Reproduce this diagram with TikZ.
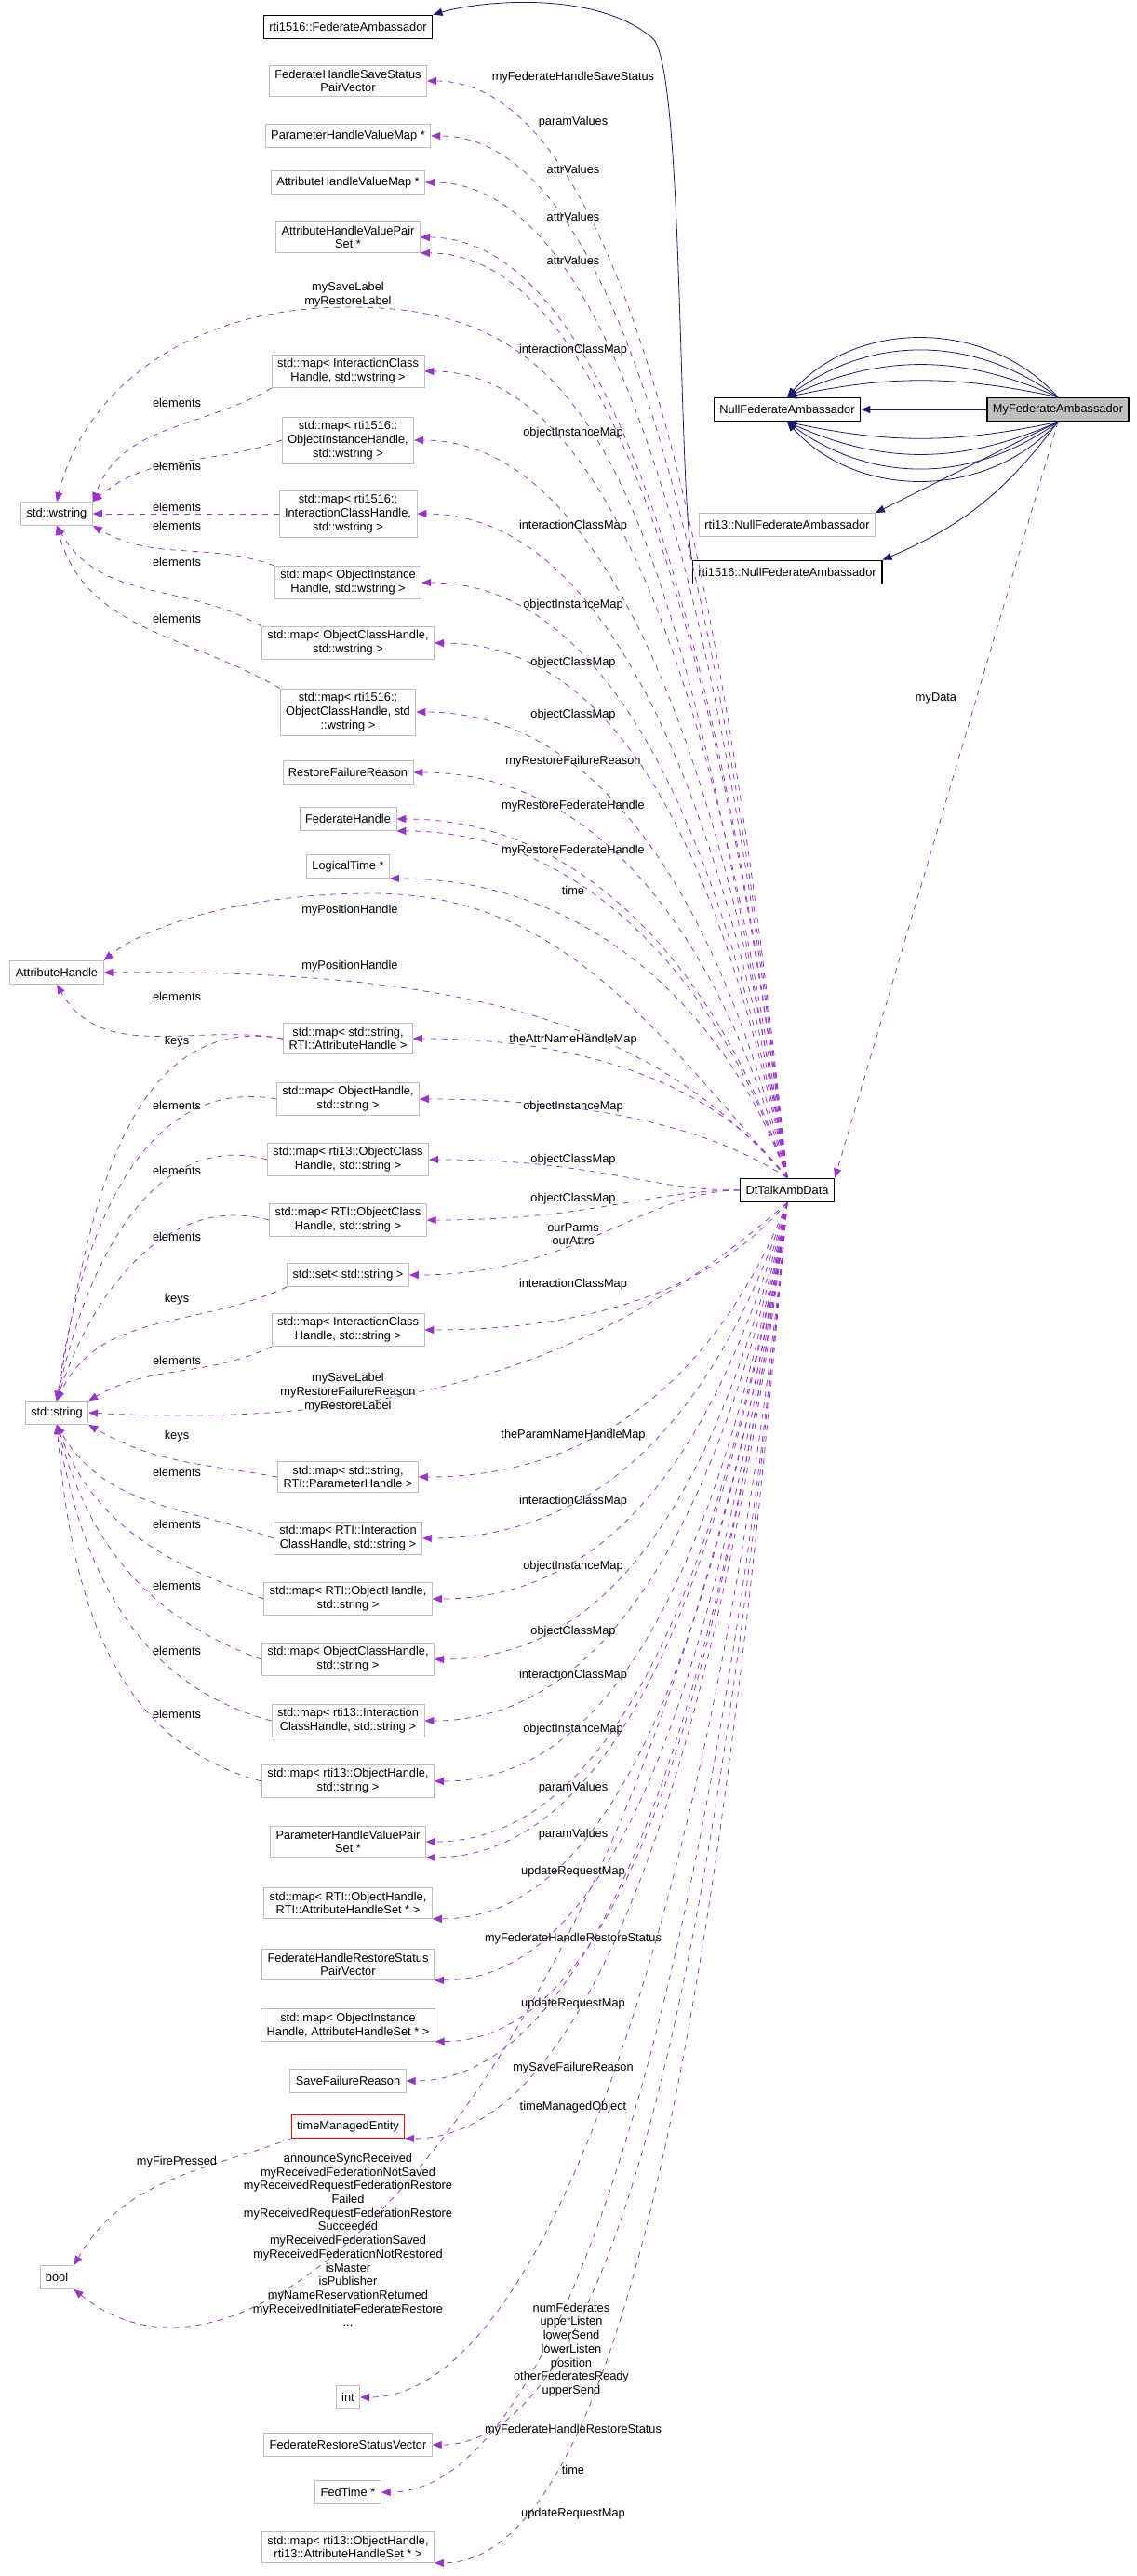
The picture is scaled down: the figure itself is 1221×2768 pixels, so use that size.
\documentclass[tikz,border=0pt]{standalone}
\usepackage{fontspec}
\setmainfont{Liberation Sans}
\usetikzlibrary{arrows.meta,positioning}
\definecolor{memberc}{HTML}{9A32CD}
\definecolor{inheritc}{HTML}{191970}
\definecolor{boxgray}{HTML}{BFBFBF}
\begin{document}
\begin{tikzpicture}[
    x=0.5pt, y=-0.5pt,
    font=\fontsize{6.4}{7.35}\selectfont,
    box/.style={rectangle, draw=boxgray, fill=white, align=center, inner xsep=3pt, inner ysep=2.2pt, minimum height=12.5pt},
    known/.style={box, draw=black, thick},
    current/.style={known, fill=boxgray},
    broken/.style={box, draw=red},
    lbl/.style={align=center, inner sep=0pt},
    member/.style={-{Triangle[length=5pt,width=4pt]}, dashed, memberc, thin},
    inherit/.style={-{Triangle[length=5pt,width=4pt]}, inheritc, thin}
]
\useasboundingbox (0,0) rectangle (1221,2768);

% Base classes
\node[known] (fedamb) at (374,29) {rti1516::FederateAmbassador};
\node[known] (nullfa) at (846,440) {NullFederateAmbassador};
\node[current] (myfa) at (1137,440) {MyFederateAmbassador};
\node[box] (null13) at (846,564) {rti13::NullFederateAmbassador};
\node[known] (null1516) at (846,615) {rti1516::NullFederateAmbassador};
\node[known] (dt) at (846,1279) {DtTalkAmbData};

% Member types (upper part)
\node[box] (fhss) at (374,87) {FederateHandleSaveStatus\\PairVector};
\node[box] (phvm) at (374,146) {ParameterHandleValueMap *};
\node[box] (ahvm) at (374,196) {AttributeHandleValueMap *};
\node[box] (ahvps) at (374,255) {AttributeHandleValuePair\\Set *};
\node[box] (wstring) at (61,552) {std::wstring};
\node[box] (mapicw) at (374,399) {std::map< InteractionClass\\Handle, std::wstring >};
\node[box] (mapoiw) at (374,473) {std::map< rti1516::\\ObjectInstanceHandle,\\std::wstring >};
\node[box] (mapichw) at (374,552) {std::map< rti1516::\\InteractionClassHandle,\\std::wstring >};
\node[box] (mapoihw) at (374,626) {std::map< ObjectInstance\\Handle, std::wstring >};
\node[box] (mapochw) at (374,691) {std::map< ObjectClassHandle,\\std::wstring >};
\node[box] (mapocw) at (374,765) {std::map< rti1516::\\ObjectClassHandle, std\\::wstring >};
\node[box] (rfr) at (374,830) {RestoreFailureReason};
\node[box] (fh) at (374,880) {FederateHandle};
\node[box] (lt) at (374,931) {LogicalTime *};
\node[box] (ah) at (61,1045) {AttributeHandle};
\node[box] (mapsah) at (374,1116) {std::map< std::string,\\RTI::AttributeHandle >};
\node[box] (mapohs) at (374,1181) {std::map< ObjectHandle,\\std::string >};
\node[box] (map13oc) at (374,1246) {std::map< rti13::ObjectClass\\Handle, std::string >};
\node[box] (maprtioc) at (374,1311) {std::map< RTI::ObjectClass\\Handle, std::string >};
\node[box] (set) at (374,1370) {std::set< std::string >};

% Member types (lower part)
\node[box] (mapics) at (374,1429) {std::map< InteractionClass\\Handle, std::string >};
\node[box] (string) at (61,1518) {std::string};
\node[box] (mapsph) at (374,1587) {std::map< std::string,\\RTI::ParameterHandle >};
\node[box] (maprtiic) at (374,1653) {std::map< RTI::Interaction\\ClassHandle, std::string >};
\node[box] (maprtioh) at (374,1718) {std::map< RTI::ObjectHandle,\\std::string >};
\node[box] (mapochs) at (374,1783) {std::map< ObjectClassHandle,\\std::string >};
\node[box] (map13ic) at (374,1849) {std::map< rti13::Interaction\\ClassHandle, std::string >};
\node[box] (map13oh) at (374,1914) {std::map< rti13::ObjectHandle,\\std::string >};
\node[box] (phvps) at (374,1979) {ParameterHandleValuePair\\Set *};
\node[box] (maprtiahs) at (374,2045) {std::map< RTI::ObjectHandle,\\RTI::AttributeHandleSet * >};
\node[box] (fhrs) at (374,2111) {FederateHandleRestoreStatus\\PairVector};
\node[box] (mapoiahs) at (374,2176) {std::map< ObjectInstance\\Handle, AttributeHandleSet * >};
\node[box] (sfr) at (374,2236) {SaveFailureReason};
\node[broken] (tme) at (374,2285) {timeManagedEntity};
\node[box] (bool) at (61,2447) {bool};
\node[box] (int) at (374,2576) {int};
\node[box] (frsv) at (374,2627) {FederateRestoreStatusVector};
\node[box] (fedtime) at (374,2678) {FedTime *};
\node[box] (map13ahs) at (374,2737) {std::map< rti13::ObjectHandle,\\rti13::AttributeHandleSet * >};

% Inheritance
\draw[inherit] (myfa) -- (nullfa);
\foreach \b in {12,24,36,48} {
  \draw[inherit] (myfa.north) to[bend right=\b] (nullfa.north);
  \draw[inherit] (myfa.south) to[bend left=\b] (nullfa.south);
}
\draw[inherit] (myfa.south) -- (null13.north east);
\draw[inherit] (myfa.south) to[bend left=15] (null1516.north east);
\draw[inherit] (null1516.north west) .. controls (728,500) and (735,60) .. (700,40)
  .. controls (640,-10) and (520,0) .. (fedamb.north east);
\draw[member] (myfa.south) -- (dt.north east);
\node[lbl] (lmydata) at (1006,750) {myData};

% Members of DtTalkAmbData, upper part
\foreach \b/\a/\k in {fhss/east/600, phvm/east/560, ahvm/east/540, ahvps/east/500,
    ahvps/south east/490, mapicw/east/430, mapoiw/east/400, mapichw/east/360,
    mapoihw/east/320, mapochw/east/290, mapocw/east/250, rfr/east/220, fh/east/190,
    fh/south east/180, lt/south east/170, mapsah/east/80, mapohs/east/40}
  \draw[member] (dt.north) .. controls +(-60,-\k) and +(220,0) .. (\b.\a);
\foreach \b in {map13oc, maprtioc, set}
  \draw[member] (dt.west) .. controls +(-100,0) and +(180,0) .. (\b.east);
\draw[member] (dt.north) .. controls (720,500) and (640,330) .. (375,330)
  .. controls (200,330) and (90,420) .. (wstring.north);
\draw[member] (dt.north) .. controls (700,1100) and (600,960) .. (400,960)
  .. controls (250,960) and (150,1000) .. (ah.north east);
\draw[member] (dt.north) .. controls (720,1120) and (550,1040) .. (ah.east);

\node[lbl] (l1) at (616,83) {myFederateHandleSaveStatus};
\node[lbl] (l2) at (616,131) {paramValues};
\node[lbl] (l3) at (616,182) {attrValues};
\node[lbl] (l4) at (616,233) {attrValues};
\node[lbl] (l5) at (616,280) {attrValues};
\node[lbl] (l6) at (374,317) {mySaveLabel\\myRestoreLabel};
\node[lbl] (l7) at (616,376) {interactionClassMap};
\node[lbl] (l8) at (616,465) {objectInstanceMap};
\node[lbl] (l9) at (616,565) {interactionClassMap};
\node[lbl] (l10) at (616,650) {objectInstanceMap};
\node[lbl] (l11) at (616,712) {objectClassMap};
\node[lbl] (l12) at (616,768) {objectClassMap};
\node[lbl] (l13) at (616,818) {myRestoreFailureReason};
\node[lbl] (l14) at (616,866) {myRestoreFederateHandle};
\node[lbl] (l15) at (616,914) {myRestoreFederateHandle};
\node[lbl] (l16) at (616,957) {time};
\node[lbl] (l17) at (376,978) {myPositionHandle};
\node[lbl] (l18) at (376,1038) {myPositionHandle};
\node[lbl] (l19) at (616,1117) {theAttrNameHandleMap};
\node[lbl] (l20) at (616,1189) {objectInstanceMap};
\node[lbl] (l21) at (616,1246) {objectClassMap};
\node[lbl] (l22) at (616,1288) {objectClassMap};
\node[lbl] (l23) at (616,1326) {ourParms\\ourAttrs};

% Members of DtTalkAmbData, lower part
\foreach \b/\a/\k in {mapics/east/70, mapsph/east/150, maprtiic/east/180, maprtioh/east/210,
    mapochs/east/245, map13ic/east/280, map13oh/east/310, phvps/east/340,
    phvps/south east/350, maprtiahs/south east/380, fhrs/south east/410,
    mapoiahs/south east/440, sfr/east/470, tme/south east/500, int/east/640,
    frsv/east/670, fedtime/east/690, map13ahs/south east/720}
  \draw[member] (dt.south) .. controls +(-60,\k) and +(220,0) .. (\b.\a);
\draw[member] (dt.south) .. controls (700,1420) and (500,1540) .. (string.east);
\draw[member] (dt.south) .. controls (720,2150) and (300,2640) .. (bool.south east);

\node[lbl] (l24) at (616,1380) {interactionClassMap};
\node[lbl] (l25) at (374,1496) {mySaveLabel\\myRestoreFailureReason\\myRestoreLabel};
\node[lbl] (l26) at (616,1542) {theParamNameHandleMap};
\node[lbl] (l27) at (616,1613) {interactionClassMap};
\node[lbl] (l28) at (616,1683) {objectInstanceMap};
\node[lbl] (l29) at (616,1753) {objectClassMap};
\node[lbl] (l30) at (616,1800) {interactionClassMap};
\node[lbl] (l31) at (616,1858) {objectInstanceMap};
\node[lbl] (l32) at (616,1921) {paramValues};
\node[lbl] (l33) at (616,1971) {paramValues};
\node[lbl] (l34) at (616,2011) {updateRequestMap};
\node[lbl] (l35) at (616,2083) {myFederateHandleRestoreStatus};
\node[lbl] (l36) at (616,2153) {updateRequestMap};
\node[lbl] (l37) at (616,2222) {mySaveFailureReason};
\node[lbl] (l38) at (616,2264) {timeManagedObject};
\node[lbl] (l39) at (374,2407) {announceSyncReceived\\myReceivedFederationNotSaved\\myReceivedRequestFederationRestore\\Failed\\myReceivedRequestFederationRestore\\Succeeded\\myReceivedFederationSaved\\myReceivedFederationNotRestored\\isMaster\\isPublisher\\myNameReservationReturned\\myReceivedInitiateFederateRestore\\...};
\node[lbl] (l40) at (614,2525) {numFederates\\upperListen\\lowerSend\\lowerListen\\position\\otherFederatesReady\\upperSend};
\node[lbl] (l41) at (616,2611) {myFederateHandleRestoreStatus};
\node[lbl] (l42) at (616,2654) {time};
\node[lbl] (l43) at (616,2701) {updateRequestMap};

% Element and key types of the containers
\draw[member] (mapicw.south west) to[out=-150,in=70] (wstring.north east);
\draw[member] (mapoiw.west) to[out=-160,in=40] (wstring.north east);
\draw[member] (mapichw.west) -- (wstring.east);
\draw[member] (mapoihw.north west) to[out=160,in=-30] (wstring.south east);
\draw[member] (mapochw.north west) to[out=150,in=-60] (wstring.south);
\draw[member] (mapocw.north west) to[out=150,in=-75] (wstring.south);
\draw[member] (mapsah.west) to[out=170,in=-60] (ah.south);
\draw[member] (mapsah.west) to[out=170,in=80] (string.north);
\draw[member] (mapohs.west) to[out=170,in=82] (string.north);
\draw[member] (map13oc.west) to[out=165,in=78] (string.north);
\draw[member] (maprtioc.west) to[out=165,in=72] (string.north);
\draw[member] (set.south west) to[out=-155,in=65] (string.north);
\draw[member] (mapics.south west) to[out=-155,in=30] (string.north east);
\draw[member] (mapsph.west) to[out=170,in=-30] (string.south east);
\draw[member] (maprtiic.west) to[out=160,in=-60] (string.south);
\draw[member] (maprtioh.west) to[out=160,in=-70] (string.south);
\draw[member] (mapochs.west) to[out=160,in=-75] (string.south);
\draw[member] (map13ic.west) to[out=165,in=-80] (string.south);
\draw[member] (map13oh.west) to[out=165,in=-85] (string.south);
\draw[member] (tme.south west) to[out=-160,in=60] (bool.north east);

\foreach \y in {433,501,545,565,604,665,1071,1188,1258,1329,1462,1582,1638,1704,1774,1842}
  \node[lbl] at (190,\y) {elements};
\foreach \y in {1119,1396,1543}
  \node[lbl] at (190,\y) {keys};
\node[lbl] (l44) at (190,2323) {myFirePressed};
\end{tikzpicture}
\end{document}
